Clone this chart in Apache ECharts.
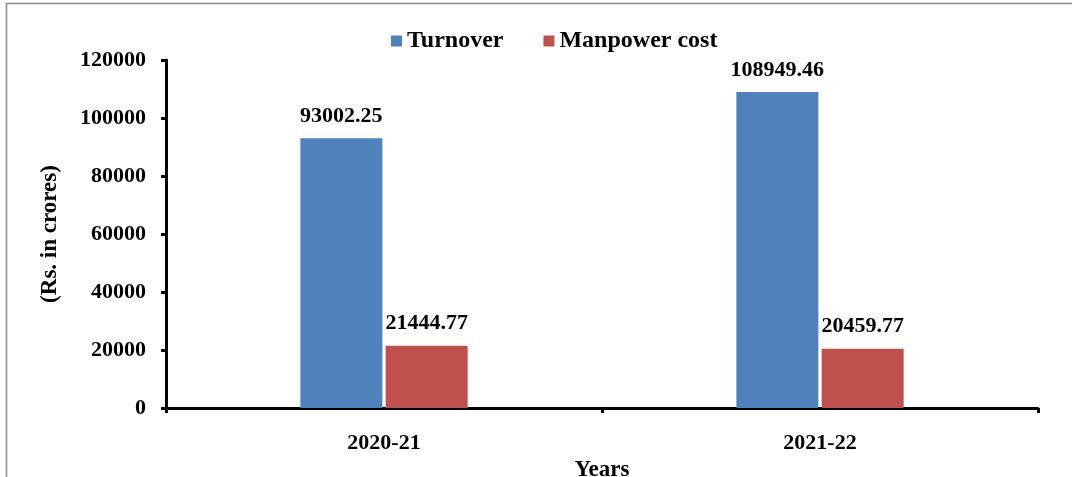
<!DOCTYPE html>
<html>
<head>
<meta charset="utf-8">
<script src="https://cdn.jsdelivr.net/npm/echarts@6/dist/echarts.min.js"></script>
<style>
  html, body { margin: 0; padding: 0; background: #fff; }
  #chart { width: 1072px; height: 477px; }
</style>
</head>
<body>
<div id="chart"></div>
<script>
const years = ['2020-21', '2021-22'];
const turnover = [93002.25, 108949.46];
const manpowerCost = [21444.77, 20459.77];
const seriesNames = ['Turnover', 'Manpower cost'];

const font = 'Liberation Serif';
const textStyle = { fontFamily: font, fontWeight: 'bold', color: '#000' };

const chart = echarts.init(document.getElementById('chart'));
chart.setOption({
  animation: false,
  textStyle: { fontFamily: font },
  // frame lines, top and left
  graphic: [
    { type: 'line', shape: { x1: 6, y1: 3.5, x2: 1072, y2: 3.5 }, style: { stroke: '#8c8c8c', lineWidth: 1.5 } },
    { type: 'line', shape: { x1: 6.5, y1: 3, x2: 6.5, y2: 477 }, style: { stroke: '#8c8c8c', lineWidth: 1.5 } }
  ],
  legend: {
    data: seriesNames,
    top: 24,
    left: 386,
    itemWidth: 11,
    itemHeight: 11,
    itemGap: 40,
    icon: 'rect',
    textStyle: { ...textStyle, fontSize: 24 }
  },
  grid: { left: 166, right: 34, top: 60, bottom: 69, outerBoundsMode: 'none' },
  xAxis: {
    type: 'category',
    data: years,
    name: 'Years',
    nameLocation: 'middle',
    nameGap: 44,
    nameTextStyle: { ...textStyle, fontSize: 23 },
    axisLine: { lineStyle: { color: '#000', width: 3 } },
    axisTick: { show: true, length: 5, lineStyle: { color: '#000', width: 3 } },
    axisLabel: { ...textStyle, fontSize: 22, margin: 24 }
  },
  yAxis: {
    type: 'value',
    min: 0,
    max: 120000,
    interval: 20000,
    name: '(Rs. in crores)',
    nameLocation: 'middle',
    nameGap: 104,
    nameRotate: 90,
    nameTextStyle: { ...textStyle, fontSize: 23 },
    axisLine: { show: true, lineStyle: { color: '#000', width: 3 } },
    axisTick: { show: true, length: 5, lineStyle: { color: '#000', width: 3 } },
    axisLabel: { ...textStyle, fontSize: 22, margin: 20, formatter: v => String(v) },
    splitLine: { show: false }
  },
  series: [
    {
      name: seriesNames[0],
      type: 'bar',
      data: turnover,
      barWidth: 82,
      barGap: '4%',
      itemStyle: { color: '#4F81BD' },
      label: { show: true, position: 'top', distance: 11, ...textStyle, fontSize: 22 }
    },
    {
      name: seriesNames[1],
      type: 'bar',
      data: manpowerCost,
      barWidth: 82,
      itemStyle: { color: '#C0504D' },
      label: { show: true, position: 'top', distance: 11, ...textStyle, fontSize: 22 }
    }
  ]
});
</script>
</body>
</html>
